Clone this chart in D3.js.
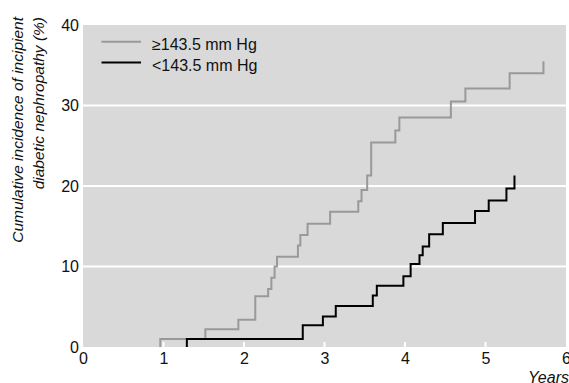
<!DOCTYPE html>
<html>
<head>
<meta charset="utf-8">
<script src="https://cdn.jsdelivr.net/npm/d3@7"></script>
<style>
  body { margin: 0; background: #fff; }
  svg { display: block; }
  text { font-family: "Liberation Sans", Arial, sans-serif; fill: #111; }
</style>
</head>
<body>
<svg id="chart" width="569" height="383"></svg>
<script>
// step events: time (years) and cumulative % after the step
const highTimes = [0.96, 1.52, 1.93, 2.14, 2.30, 2.34, 2.38, 2.41, 2.67, 2.70, 2.79, 3.07, 3.42, 3.46, 3.53, 3.58, 3.88, 3.93, 4.57, 4.75, 5.30, 5.72];
const highValues = [1.0, 2.2, 3.4, 6.3, 7.2, 8.6, 10.0, 11.2, 12.6, 13.9, 15.3, 16.8, 18.1, 19.5, 21.3, 25.4, 26.9, 28.5, 30.5, 32.1, 34.0, 35.5];
const lowTimes = [1.29, 2.73, 2.98, 3.14, 3.60, 3.65, 3.98, 4.07, 4.18, 4.22, 4.30, 4.47, 4.87, 5.04, 5.26, 5.36];
const lowValues = [1.0, 2.7, 3.8, 5.1, 6.4, 7.6, 8.8, 10.3, 11.4, 12.5, 14.0, 15.4, 16.9, 18.2, 19.7, 21.3];
const xTicks = [0, 1, 2, 3, 4, 5, 6];
const yTicks = [0, 10, 20, 30, 40];
const seriesNames = ["\u2265143.5 mm Hg", "<143.5 mm Hg"];

const W = 569, H = 383;
const margin = { top: 25, right: 3, bottom: 36, left: 83 };

const svg = d3.select('#chart');
const x = d3.scaleLinear().domain([0, 6]).range([margin.left, W - margin.right]);
const y = d3.scaleLinear().domain([0, 40]).range([H - margin.bottom, margin.top]);

// plot background
svg.append('rect')
  .attr('x', x(0)).attr('y', y(40))
  .attr('width', x(6) - x(0)).attr('height', y(0) - y(40))
  .attr('fill', '#d9d9d9');

// white gridlines
svg.append('g')
  .selectAll('line')
  .data(yTicks.filter(d => d > 0 && d < 40))
  .enter().append('line')
    .attr('x1', x(0)).attr('x2', x(6))
    .attr('y1', d => y(d)).attr('y2', d => y(d))
    .attr('stroke', '#fff').attr('stroke-width', 2);

// little white ticks inside the bottom edge
svg.append('g')
  .selectAll('line')
  .data(xTicks.filter(d => d > 0 && d < 6))
  .enter().append('line')
    .attr('x1', d => x(d)).attr('x2', d => x(d))
    .attr('y1', y(0)).attr('y2', y(0) - 5)
    .attr('stroke', '#fff').attr('stroke-width', 2);

// axes, labels only
const xAxis = svg.append('g')
  .attr('transform', 'translate(0,' + y(0) + ')')
  .call(d3.axisBottom(x).tickValues(xTicks).tickSize(0).tickPadding(6).tickFormat(d3.format('d')));
const yAxis = svg.append('g')
  .attr('transform', 'translate(' + x(0) + ',0)')
  .call(d3.axisLeft(y).tickValues(yTicks).tickSize(0).tickPadding(4).tickFormat(d3.format('d')));
[xAxis, yAxis].forEach(a => {
  a.select('.domain').remove();
  a.selectAll('text').attr('font-size', 16).attr('font-family', null).style('fill', '#111');
});

// step curves
const line = d3.line()
  .x(d => x(d[0]))
  .y(d => y(d[1]))
  .curve(d3.curveStepAfter);

function steps(times, values) {
  const pts = [[times[0], 0]];
  times.forEach((t, i) => pts.push([t, values[i]]));
  return pts;
}

svg.append('path')
  .attr('d', line(steps(highTimes, highValues)))
  .attr('fill', 'none').attr('stroke', '#999').attr('stroke-width', 2);
svg.append('path')
  .attr('d', line(steps(lowTimes, lowValues)))
  .attr('fill', 'none').attr('stroke', '#000').attr('stroke-width', 2);

// legend
const legend = svg.append('g');
const legendColors = ['#999', '#000'];
seriesNames.forEach((name, i) => {
  const ly = 41.7 + i * 20.8;
  legend.append('line')
    .attr('x1', 101.5).attr('x2', 141)
    .attr('y1', ly).attr('y2', ly)
    .attr('stroke', legendColors[i]).attr('stroke-width', 2);
  legend.append('text')
    .attr('x', 152).attr('y', ly + 8.5)
    .attr('font-size', 16)
    .text(name);
});

// axis titles
const yTitle = svg.append('text')
  .attr('transform', 'translate(23,17) rotate(-90)')
  .attr('text-anchor', 'end')
  .attr('font-size', 15.5)
  .attr('font-style', 'italic');
yTitle.append('tspan').attr('x', 0).attr('dy', 0).text('Cumulative incidence of incipient');
yTitle.append('tspan').attr('x', 0).attr('dy', 21).text('diabetic nephropathy (%)');

svg.append('text')
  .attr('x', 569).attr('y', 383)
  .attr('text-anchor', 'end')
  .attr('font-size', 16)
  .attr('font-style', 'italic')
  .text('Years');
</script>
</body>
</html>
